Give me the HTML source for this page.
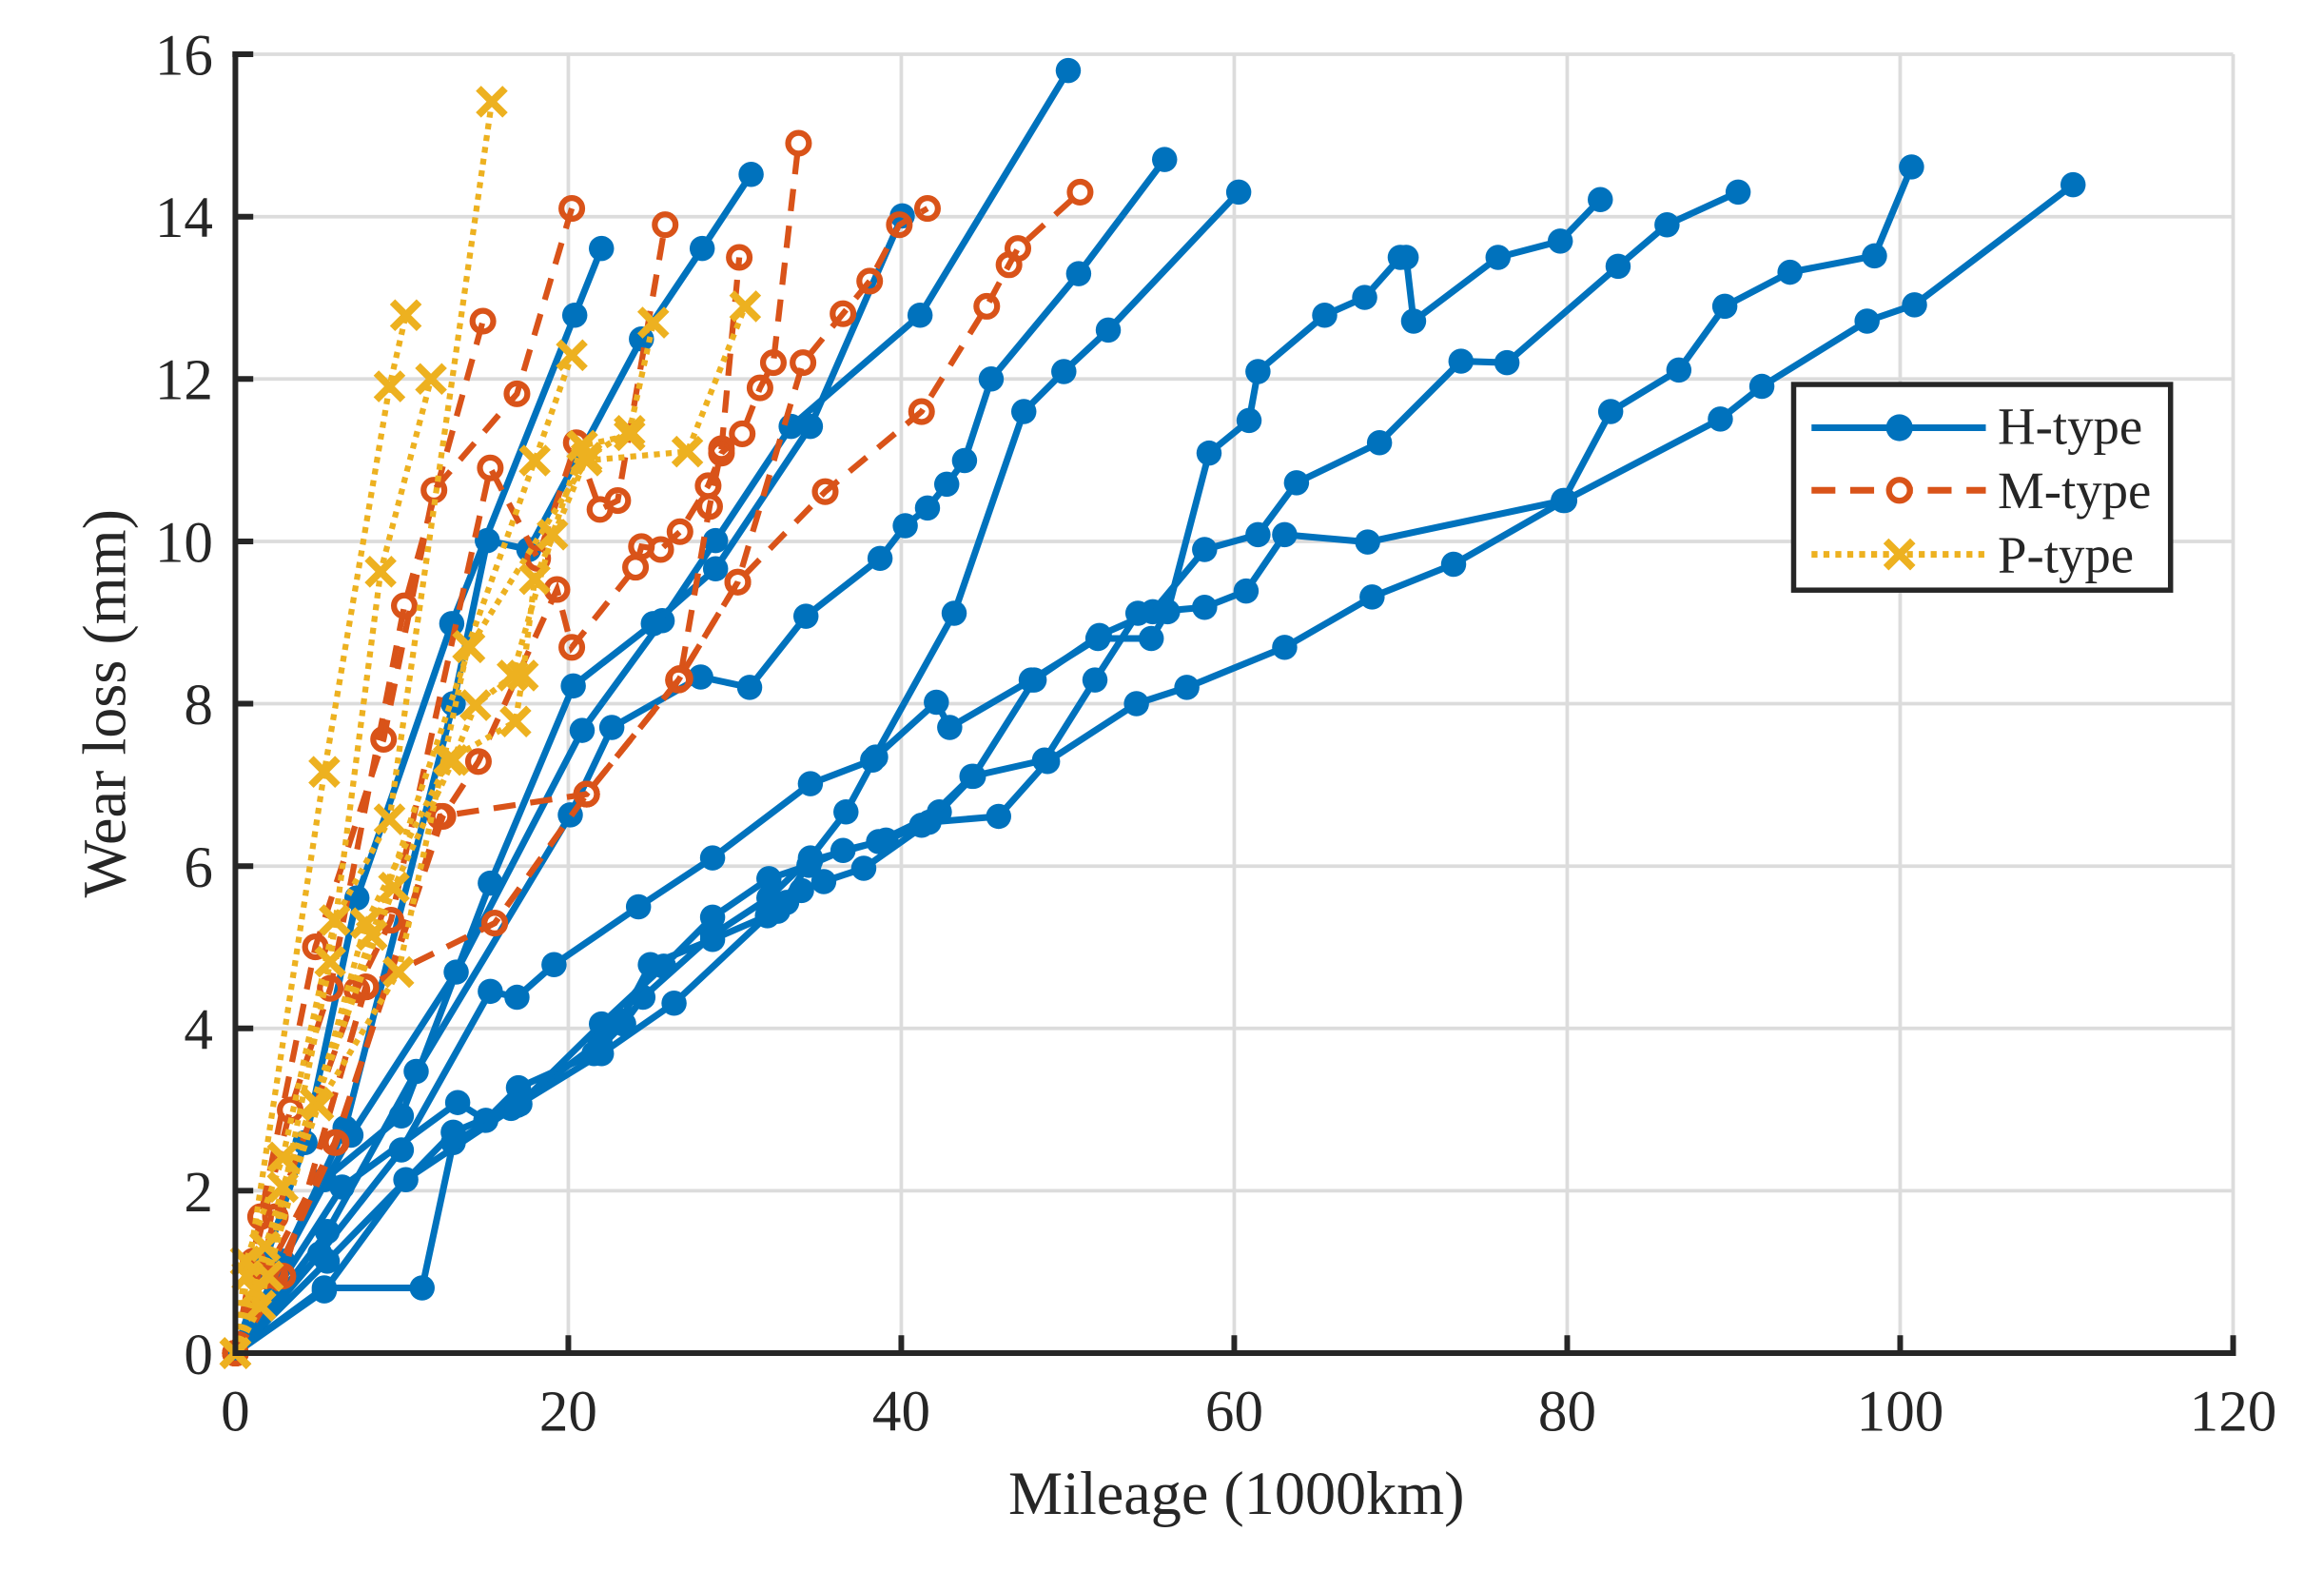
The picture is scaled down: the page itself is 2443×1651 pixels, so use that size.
<!DOCTYPE html>
<html><head><meta charset="utf-8"><style>
html,body{margin:0;padding:0;background:#fff}
svg{display:block}
text{font-family:"Liberation Serif",serif;fill:#262626}
</style></head><body>
<svg id="s" width="2443" height="1651" viewBox="0 0 1560 1054.2" preserveAspectRatio="none" xmlns="http://www.w3.org/2000/svg">
<g stroke="#dcdcdc" stroke-width="2.4" fill="none">
<path d="M158,36.4H1499M158,145.4H1499M158,254.3H1499M158,363.3H1499M158,472.2H1499M158,581.2H1499M158,690.1H1499M158,799H1499"/>
<path d="M381.5,36.4V908M605,36.4V908M828.5,36.4V908M1052,36.4V908M1275.5,36.4V908M1499,36.4V908"/>
</g>
<g id="data" transform="translate(158,36.4) scale(0.99481,0.99498) translate(-158,-36)"></g>
<g stroke="#262626" stroke-width="3.8" fill="none">
<path d="M158,36.4V908H1499V896"/>
<path d="M156,36.4H170M158,145.4H170M158,254.3H170M158,363.3H170M158,472.2H170M158,581.2H170M158,690.1H170M158,799H170"/>
<path d="M381.5,908V896M605,908V896M828.5,908V896M1052,908V896M1275.5,908V896"/>
</g>
<g font-size="39" text-anchor="end">
<text x="143" y="50">16</text><text x="143" y="159">14</text><text x="143" y="268">12</text><text x="143" y="377">10</text>
<text x="143" y="486">8</text><text x="143" y="595">6</text><text x="143" y="704">4</text><text x="143" y="813">2</text><text x="143" y="922">0</text>
</g>
<g font-size="39" text-anchor="middle">
<text x="158" y="960">0</text><text x="381.5" y="960">20</text><text x="605" y="960">40</text><text x="828.5" y="960">60</text>
<text x="1052" y="960">80</text><text x="1275.5" y="960">100</text><text x="1499" y="960">120</text>
</g>
<text x="830" y="1016" font-size="41" text-anchor="middle">Mileage (1000km)</text>
<text transform="translate(84,472) rotate(-90)" font-size="41" text-anchor="middle">Wear loss (mm)</text>
<g>
<rect x="1204" y="258" width="253" height="138" fill="#fff" stroke="#262626" stroke-width="3.5"/>
<path d="M1216,287H1333" stroke="#0072bd" stroke-width="4.5"/>
<circle cx="1275" cy="287" r="9" fill="#0072bd"/>
<path d="M1216,329H1333" stroke="#d95319" stroke-width="4.5" stroke-dasharray="16,10"/>
<circle cx="1275" cy="329" r="7" fill="#fff" stroke="#d95319" stroke-width="4"/>
<path d="M1216,372H1333" stroke="#edb120" stroke-width="4.5" stroke-dasharray="4,4"/>
<path d="M1266,363l18,18M1284,363l-18,18" stroke="#edb120" stroke-width="5"/>
<text x="1341" y="298" font-size="35">H-type</text>
<text x="1341" y="341" font-size="35">M-type</text>
<text x="1341" y="384" font-size="35">P-type</text>
</g>
</svg>
<script>
var H=[
[158,912,178,850,205,770,240,605,304,420,387,212,405,167],
[158,912,185,860,232,760,305,474,328,364,356,370,432,228,473,167,506,117],
[158,912,190,850,236,765,307,655,392,492,446,418,482,364,533,287,620,212,720,47],
[158,912,218,795,270,752,330,595,386,462,440,420,482,383,546,287,608,145],
[158,912,220,830,280,722,384,549,412,490,472,456,505,463,543,415,593,376,610,354,625,342,638,326,650,310,668,255,727,184,785,107],
[158,912,215,845,270,775,330,668,348,672,373,650,430,611,480,578,546,528,588,512,643,413,690,277,717,250,747,222,835,129],
[158,912,230,800,308,743,327,755,349,733,400,710,420,690,433,672,480,630,518,605,546,578,570,547,590,510,631,473,640,490,695,458,740,430,776,430,787,412,815,305,842,283,848,250,893,212,920,200,944,173,948,173,953,216,1010,173,1052,162,1079,134],
[158,912,218,868,284,868,305,770,344,747,404,702,418,688,438,650,480,633,524,614,546,580,592,567,633,547,656,523,697,458,741,428,777,412,812,370,848,360,874,325,930,298,985,243,1016,244,1091,179,1124,151,1172,129],
[158,912,220,850,305,763,350,744,405,690,447,651,480,618,518,592,545,583,568,573,597,566,621,556,655,523,704,512,738,458,767,413,812,409,840,398,866,360,922,365,1054,337,1086,277,1132,249,1163,206,1207,183,1264,172,1289,112],
[158,912,218,870,273,795,348,745,405,710,454,676,517,617,530,608,540,600,555,594,582,585,626,554,673,550,706,513,766,474,800,463,866,436,925,402,980,380,1055,337,1160,282,1188,260,1259,216,1291,205,1398,124]];
var M=[
[158,912,175,820,212,638,258,498,292,330,348,265,385,140],
[158,912,170,850,195,748,222,666,272,408,325,216],
[158,912,185,820,240,667,263,620,330,315,362,376,388,298,404,343,416,337,448,151],
[158,912,178,860,225,770,298,550,322,513,375,397,385,436,428,382,432,368,445,370,458,358,477,327,486,305,500,292,512,261,521,244,538,96],
[158,912,190,860,246,665,333,622,395,535,458,457,478,341,486,302,498,173],
[158,912,185,860,226,770,296,550,395,535,457,458,497,392,541,244,568,211,586,189,606,151,625,140],
[158,912,190,860,246,665,333,622,395,535,457,458,497,392,556,331,621,277,665,206,680,178,686,167,728,129]];
var P=[
[158,912,166,860,218,520,262,260,273,212],
[158,912,175,880,222,648,256,385,290,255],
[158,912,165,850,190,780,225,620,262,552,331,68],
[158,912,172,870,214,745,268,655,315,435,360,310,385,239],
[158,912,180,860,246,622,302,512,347,486,352,455,360,390,395,308,424,290,440,217],
[158,912,178,840,212,743,265,598,305,512,320,475,345,455,372,360,392,300,424,293],
[158,912,190,800,250,630,316,436,395,310,463,304,502,206]];
var o='';
function pts(a){var s='';for(var i=0;i<a.length;i+=2)s+=a[i]+','+a[i+1]+' ';return s;}
H.forEach(function(a){o+='<polyline points="'+pts(a)+'" fill="none" stroke="#0072bd" stroke-width="4.5" stroke-linejoin="round"/>';for(var i=0;i<a.length;i+=2)o+='<circle cx="'+a[i]+'" cy="'+a[i+1]+'" r="8.5" fill="#0072bd"/>';});
M.forEach(function(a){o+='<polyline points="'+pts(a)+'" fill="none" stroke="#d95319" stroke-width="4" stroke-dasharray="15,10"/>';for(var i=0;i<a.length;i+=2)o+='<circle cx="'+a[i]+'" cy="'+a[i+1]+'" r="7" fill="none" stroke="#d95319" stroke-width="4"/>';});
P.forEach(function(a){o+='<polyline points="'+pts(a)+'" fill="none" stroke="#edb120" stroke-width="4" stroke-dasharray="4,4"/>';for(var i=0;i<a.length;i+=2){var x=a[i],y=a[i+1];o+='<path d="M'+(x-9)+','+(y-9)+'l18,18M'+(x+9)+','+(y-9)+'l-18,18" stroke="#edb120" stroke-width="5"/>';}});
document.getElementById('data').innerHTML=o;
</script>
</body></html>
